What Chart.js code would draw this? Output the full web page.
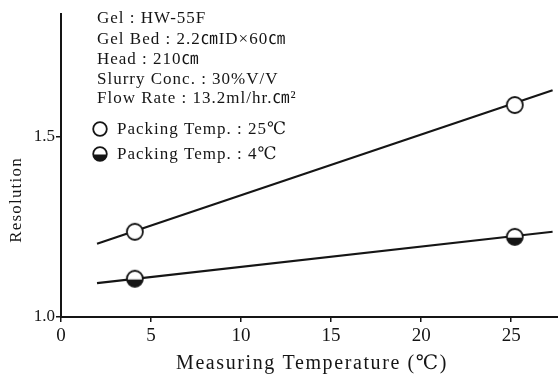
<!DOCTYPE html>
<html>
<head>
<meta charset="utf-8">
<script src="https://cdn.jsdelivr.net/npm/chart.js@4"></script>
<style>
html,body{margin:0;padding:0;background:#fff;overflow:hidden;}
#c{display:block;}
</style>
</head>
<body>
<canvas id="c" width="558" height="375"></canvas>
<script>
// ---- data ----
const fitTemp = [2.0, 27.3];          // fitted-line x extent (°C)
const fit25 = [1.203, 1.628];         // packing 25°C fitted line
const fit4 = [1.094, 1.236];          // packing 4°C fitted line
const measTemp = [4.1, 25.2];         // measuring temperatures
const res25 = [1.236, 1.587];         // resolution, packed at 25°C
const res4 = [1.106, 1.222];          // resolution, packed at 4°C
const xTicks = [0, 5, 10, 15, 20, 25];
const yTicks = [1.0, 1.5];
const infoLines = [
  'Gel : HW-55F',
  'Gel Bed : 2.2\u339DID\u00D760\u339D',
  'Head : 210\u339D',
  'Slurry Conc. : 30%V/V',
  'Flow Rate : 13.2ml/hr.\u339D\u00B2'
];
const legendLabels = ['Packing Temp. : 25\u2103', 'Packing Temp. : 4\u2103'];
const xTitle = 'Measuring Temperature (\u2103)';
const yTitle = 'Resolution';

const FONT = "'Liberation Serif','DejaVu Serif','Noto Sans CJK JP',serif";
const INK = '#151515';

function makeMarker(r, half) {
  const s = Math.ceil(r * 2 + 4);
  const cv = document.createElement('canvas');
  cv.width = s; cv.height = s;
  const g = cv.getContext('2d');
  const c = s / 2;
  g.beginPath(); g.arc(c, c, r, 0, Math.PI * 2); g.fillStyle = '#fff'; g.fill();
  if (half) {
    g.beginPath(); g.arc(c, c, r, 0.08, Math.PI - 0.08); g.closePath();
    g.fillStyle = INK; g.fill();
  }
  g.beginPath(); g.arc(c, c, r, 0, Math.PI * 2);
  g.lineWidth = 1.8; g.strokeStyle = INK; g.stroke();
  return cv;
}
const openBig = makeMarker(8, false);
const halfBig = makeMarker(8, true);
const openSmall = makeMarker(6.8, false);
const halfSmall = makeMarker(6.8, true);

const textPlugin = {
  id: 'texts',
  afterDraw(chart) {
    const ctx = chart.ctx;
    ctx.save();
    ctx.fillStyle = INK;
    ctx.textAlign = 'left';
    ctx.textBaseline = 'alphabetic';
    ctx.font = '17px ' + FONT;
    ctx.letterSpacing = '1px';
    const base = [23, 44, 64, 84, 103];
    infoLines.forEach((t, i) => ctx.fillText(t, 97, base[i]));
    const lb = [134, 159];
    const mk = [openSmall, halfSmall];
    legendLabels.forEach((t, i) => {
      ctx.drawImage(mk[i], 100 - mk[i].width / 2, lb[i] - 5 - mk[i].height / 2);
      ctx.fillText(t, 117, lb[i]);
    });
    // x title
    ctx.font = '20px ' + FONT;
    ctx.letterSpacing = '1.6px';
    ctx.textAlign = 'center';
    ctx.fillText(xTitle, 312, 369);
    // y title
    ctx.font = '17px ' + FONT;
    ctx.letterSpacing = '1.2px';
    ctx.translate(21, 200);
    ctx.rotate(-Math.PI / 2);
    ctx.fillText(yTitle, 0, 0);
    ctx.restore();
  }
};

new Chart(document.getElementById('c'), {
  type: 'scatter',
  data: {
    datasets: [
      { type: 'line', data: fitTemp.map((x, i) => ({x, y: fit25[i]})), borderColor: INK, borderWidth: 2.2, pointRadius: 0, order: 3 },
      { type: 'line', data: fitTemp.map((x, i) => ({x, y: fit4[i]})), borderColor: INK, borderWidth: 2.2, pointRadius: 0, order: 3 },
      { data: measTemp.map((x, i) => ({x, y: res25[i]})), pointStyle: openBig, order: 1 },
      { data: measTemp.map((x, i) => ({x, y: res4[i]})), pointStyle: halfBig, order: 1 }
    ]
  },
  options: {
    responsive: false,
    animation: false,
    events: [],
    layout: { autoPadding: false, padding: { left: 0, top: 14, right: 0, bottom: 0 } },
    plugins: { legend: { display: false }, tooltip: { enabled: false } },
    scales: {
      x: {
        type: 'linear', min: 0, max: 27.6,
        afterFit(s) { s.height = 58; },
        afterBuildTicks(s) { s.ticks = xTicks.map(v => ({value: v})); },
        grid: { display: true, drawOnChartArea: false, drawTicks: true, tickLength: 5, color: INK, lineWidth: 1.5 },
        border: { display: true, color: INK, width: 2 },
        ticks: { color: INK, font: { family: FONT, size: 19 }, padding: 3, maxRotation: 0, autoSkip: false }
      },
      y: {
        type: 'linear', min: 1.0, max: 1.839,
        afterFit(s) { s.width = 61; },
        afterBuildTicks(s) { s.ticks = yTicks.map(v => ({value: v})); },
        grid: { display: true, drawOnChartArea: false, drawTicks: true, tickLength: 5, color: INK, lineWidth: 1.5 },
        border: { display: true, color: INK, width: 2 },
        ticks: { color: INK, font: { family: FONT, size: 17 }, padding: 1, callback: v => Number(v).toFixed(1) }
      }
    }
  },
  plugins: [textPlugin]
});
</script>
</body>
</html>
